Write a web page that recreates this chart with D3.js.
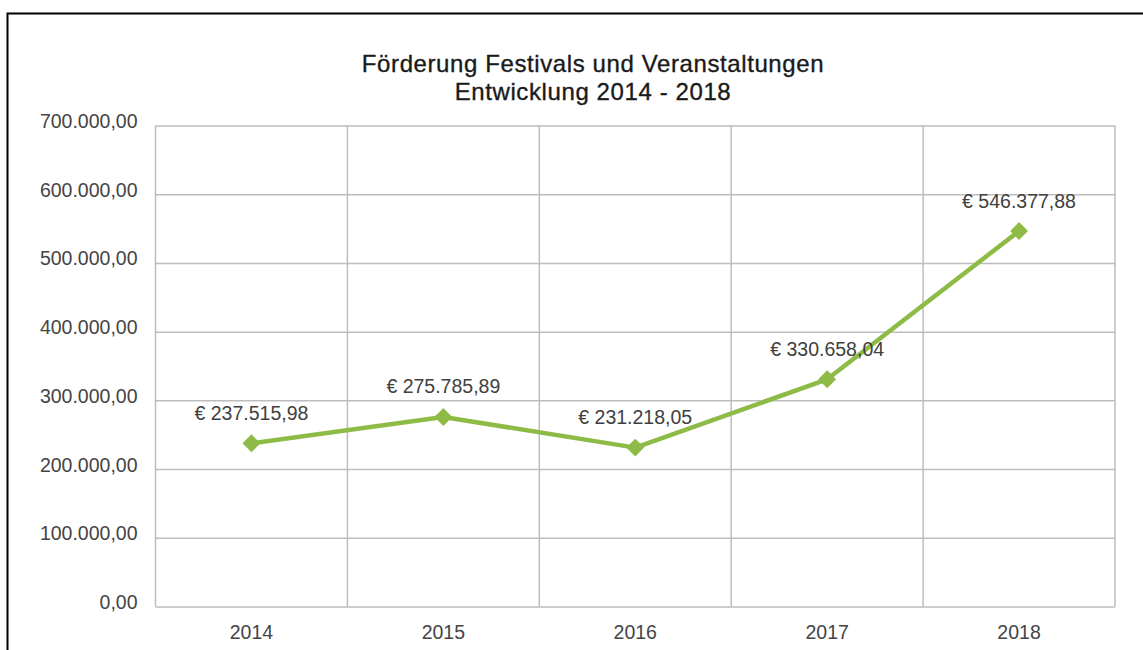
<!DOCTYPE html>
<html>
<head>
<meta charset="utf-8">
<script src="https://cdn.jsdelivr.net/npm/d3@7"></script>
<style>
  html, body { margin: 0; padding: 0; background: #fff; }
  svg { display: block; font-family: "Liberation Sans", Arial, sans-serif; }
</style>
</head>
<body>
<svg id="chart" width="1143" height="650"></svg>
<script>
const years = ['2014', '2015', '2016', '2017', '2018'];
const amounts = [237515.98, 275785.89, 231218.05, 330658.04, 546377.88];
const amountLabels = ['€ 237.515,98', '€ 275.785,89', '€ 231.218,05', '€ 330.658,04', '€ 546.377,88'];
const yTicks = [0, 100000, 200000, 300000, 400000, 500000, 600000, 700000];
const titleLines = ['Förderung Festivals und Veranstaltungen', 'Entwicklung 2014 - 2018'];

const margin = { top: 125.5, right: 28, bottom: 43.5, left: 155.5 };
const W = 1143;
const H = 650;
const width = W - margin.left - margin.right;
const height = H - margin.top - margin.bottom;
const green = '#8dbb46';
const gridColor = '#bdbdbd';
const labelSize = '19.5px';

const svg = d3.select('#chart');

// outer frame (only top and left edges visible)
svg.append('path')
  .attr('d', `M7.5,${H} V13.5 H${W}`)
  .attr('fill', 'none')
  .attr('stroke', '#000')
  .attr('stroke-width', 2);

// title
const title = svg.append('text')
  .attr('text-anchor', 'middle')
  .attr('fill', '#1a1a1a')
  .attr('stroke', '#1a1a1a')
  .attr('stroke-width', 0.35)
  .style('font-size', '24px')
  .style('letter-spacing', '0.6px');
titleLines.forEach((t, i) => {
  title.append('tspan')
    .attr('x', 593)
    .attr('y', 72 + i * 27.5)
    .text(t);
});

const g = svg.append('g').attr('transform', `translate(${margin.left},${margin.top})`);

const x = d3.scaleBand().domain(years).range([0, width]);
const y = d3.scaleLinear().domain([0, 700000]).range([height, 0]);

const fmt = d3.formatLocale({ decimal: ',', thousands: '.', grouping: [3], currency: ['€', ''] }).format(',.2f');

// horizontal grid + y labels
const yAxis = g.append('g')
  .call(d3.axisLeft(y).tickValues(yTicks).tickSize(-width).tickFormat(fmt));
yAxis.select('.domain').remove();
yAxis.selectAll('.tick line').attr('stroke', gridColor).attr('stroke-width', 1.5);
yAxis.selectAll('.tick text')
  .attr('x', -18)
  .attr('dy', '0.1em')
  .attr('fill', '#444')
  .style('font-size', labelSize);

// vertical grid at band edges
g.append('g')
  .selectAll('line')
  .data(years.concat(['end']))
  .join('line')
  .attr('x1', (d, i) => i < years.length ? x(d) : width)
  .attr('x2', (d, i) => i < years.length ? x(d) : width)
  .attr('y1', 0)
  .attr('y2', height)
  .attr('stroke', gridColor)
  .attr('stroke-width', 1.5);

// x labels
const xAxis = g.append('g')
  .attr('transform', `translate(0,${height})`)
  .call(d3.axisBottom(x).tickSize(0).tickPadding(0));
xAxis.select('.domain').remove();
xAxis.selectAll('.tick text')
  .attr('dy', 0)
  .attr('y', 32)
  .attr('fill', '#444')
  .style('font-size', labelSize);

// line
const points = years.map((yr, i) => ({ year: yr, value: amounts[i], label: amountLabels[i] }));
const cx = d => x(d.year) + x.bandwidth() / 2;

g.append('path')
  .datum(points)
  .attr('fill', 'none')
  .attr('stroke', green)
  .attr('stroke-width', 4.5)
  .attr('stroke-linejoin', 'round')
  .attr('d', d3.line().x(cx).y(d => y(d.value)));

g.selectAll('.marker')
  .data(points)
  .join('path')
  .attr('class', 'marker')
  .attr('d', d3.symbol(d3.symbolSquare, 160))
  .attr('transform', d => `translate(${cx(d)},${y(d.value)}) rotate(45)`)
  .attr('fill', green);

g.selectAll('.value-label')
  .data(points)
  .join('text')
  .attr('class', 'value-label')
  .attr('x', cx)
  .attr('y', d => y(d.value) - 23.5)
  .attr('text-anchor', 'middle')
  .attr('fill', '#404040')
  .style('font-size', labelSize)
  .text(d => d.label);
</script>
</body>
</html>
